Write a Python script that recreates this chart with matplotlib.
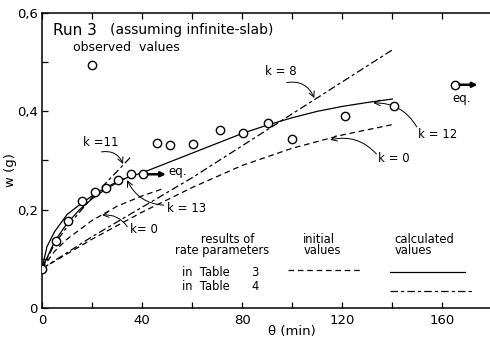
import numpy as np
import matplotlib
matplotlib.use('Agg')
import matplotlib.pyplot as plt

plt.rcParams['font.family'] = 'DejaVu Sans'

# observed values (short run, up to eq.)
obs1_t = [0, 5.6, 10.5, 16, 21, 25.6, 30.5, 35.6, 40.5]
obs1_w = [0.08, 0.136, 0.177, 0.218, 0.235, 0.245, 0.26, 0.272, 0.272]
# observed values (long run)
obs2_t = [46, 51, 60.5, 71, 80.5, 90.5, 100, 121, 140.5]
obs2_w = [0.336, 0.332, 0.334, 0.362, 0.355, 0.377, 0.343, 0.391, 0.41]
eq1 = (40.5, 0.272)
eq2 = (165, 0.454)

# calculated curves, Table 3 (solid)
k12_t = [0, 2, 5, 10, 15, 20, 25, 30, 35, 40, 50, 60, 70, 80, 90, 100, 110, 120, 130, 140]
k12_w = [0.08, 0.125, 0.155, 0.19, 0.21, 0.228, 0.243, 0.257, 0.267, 0.275, 0.295,
         0.315, 0.335, 0.355, 0.372, 0.387, 0.4, 0.41, 0.418, 0.425]
k13_t = [0, 5, 10, 15, 20, 25, 30, 33]
k13_w = [0.08, 0.135, 0.172, 0.2, 0.222, 0.24, 0.255, 0.263]
# initial values, Table 3 (dashed)
k0s_t = [0, 5, 10, 20, 30, 40, 48]
k0s_w = [0.08, 0.115, 0.14, 0.178, 0.207, 0.228, 0.242]
k0l_t = [0, 20, 40, 60, 80, 100, 120, 140]
k0l_w = [0.08, 0.14, 0.195, 0.245, 0.29, 0.325, 0.352, 0.373]
# calculated curves, Table 4 (dash-dot)
k11_t = [0, 5, 10, 20, 30, 36]
k11_w = [0.08, 0.13, 0.165, 0.225, 0.278, 0.31]
k8_t = [0, 20, 40, 60, 80, 100, 120, 140]
k8_w = [0.08, 0.145, 0.205, 0.265, 0.33, 0.395, 0.46, 0.525]

dash3 = (0, (4.5, 3))
dash4 = (0, (6, 2.5, 2.5, 2.5))
lw = 0.9

fig = plt.figure(figsize=(4.9, 3.39), dpi=100)
ax = fig.add_axes([0.0857, 0.0914, 0.9143, 0.8703])

ax.plot(k12_t, k12_w, color='black', lw=lw)
ax.plot(k13_t, k13_w, color='black', lw=lw)
ax.plot(k0s_t, k0s_w, color='black', lw=lw, ls=dash3)
ax.plot(k0l_t, k0l_w, color='black', lw=lw, ls=dash3)
ax.plot(k11_t, k11_w, color='black', lw=lw, ls=dash4)
ax.plot(k8_t, k8_w, color='black', lw=lw, ls=dash4)

mk = dict(ls='none', marker='o', ms=6, mfc='white', mec='black', mew=1, zorder=5)
ax.plot(obs1_t, obs1_w, **mk)
ax.plot(obs2_t, obs2_w, **mk)
ax.plot([eq2[0]], [eq2[1]], **mk)
ax.plot([19.9], [0.494], **mk)  # legend symbol for observed values

# eq. arrows
thick = dict(arrowstyle='-|>', lw=1.8, color='black', mutation_scale=7, shrinkA=0, shrinkB=0)
ax.annotate('', xy=(eq1[0] + 9, eq1[1]), xytext=(eq1[0] + 1.8, eq1[1]), arrowprops=thick, zorder=6)
ax.annotate('', xy=(eq2[0] + 9, eq2[1]), xytext=(eq2[0] + 1.8, eq2[1]), arrowprops=thick, zorder=6)
ax.text(50.4, 0.277, 'eq.', fontsize=8.5, va='center')
ax.text(167.6, 0.427, 'eq.', fontsize=8.5, va='center', ha='center')

# texts
ax.text(4.4, 0.565, 'Run 3', fontsize=11, va='center')
ax.text(27.2, 0.565, '(assuming infinite-slab)', fontsize=10, va='center')
ax.text(12.4, 0.529, 'observed  values', fontsize=9, va='center')

# k labels with wavy arrows
arr = dict(arrowstyle='->', lw=0.7, color='black', shrinkA=1, shrinkB=0)
labels = [
    ('k = 8', (89.2, 0.48), (97.2, 0.458), (108.8, 0.427), -0.4),
    ('k = 12', (150.4, 0.352), (150, 0.366), (132.4, 0.417), 0.3),
    ('k = 0', (134.4, 0.305), (134, 0.311), (115.2, 0.342), 0.3),
    ('k =11', (16.4, 0.336), (23.2, 0.317), (32.4, 0.293), -0.4),
    ('k = 13', (50, 0.203), (49.2, 0.209), (34, 0.26), -0.3),
    ('k= 0', (35, 0.159), (34.4, 0.163), (24, 0.189), 0.3),
]
for txt, pos, tail, head, rad in labels:
    ax.text(pos[0], pos[1], txt, fontsize=8.5, va='center')
    ax.annotate('', xy=head, xytext=tail,
                arrowprops=dict(arr, connectionstyle='arc3,rad=%s' % rad))

# legend block
fs = 8.3
ax.text(72, 0.128, '   results of\nrate parameters', fontsize=fs, ha='center', va='center',
        multialignment='center', linespacing=0.85)
ax.text(56, 0.073, 'in  Table', fontsize=fs, va='center')
ax.text(56, 0.043, 'in  Table', fontsize=fs, va='center')
ax.text(85.2, 0.073, '3', fontsize=fs, ha='center', va='center')
ax.text(85.2, 0.043, '4', fontsize=fs, ha='center', va='center')
ax.text(104.4, 0.128, 'initial\nvalues', fontsize=fs, va='center', linespacing=0.85)
ax.text(140.8, 0.128, 'calculated\nvalues', fontsize=fs, va='center', linespacing=0.85)
ax.plot([98.4, 127.2], [0.077, 0.077], color='black', lw=lw, ls=dash3)
ax.plot([139, 169], [0.073, 0.073], color='black', lw=lw)
ax.plot([139, 172], [0.035, 0.035], color='black', lw=lw, ls=dash4)

ax.set_xlim(0, 179)
ax.set_ylim(0, 0.6)
ax.spines['right'].set_visible(False)
for s in ['left', 'bottom', 'top']:
    ax.spines[s].set_linewidth(1.1)

ax.set_xticks([0, 40, 80, 120, 160])
ax.set_xticklabels(['0', '40', '80', '120', '160'])
ax.set_xticks(np.arange(0, 180, 20), minor=True)
ax.set_yticks([0, 0.2, 0.4, 0.6])
ax.set_yticklabels(['0', '0,2', '0,4', '0,6'])
ax.set_yticks(np.arange(0, 0.61, 0.1), minor=True)
ax.tick_params(which='both', direction='in', top=True, right=False, labelsize=9.5, width=0.9)
ax.tick_params(which='major', length=4)
ax.tick_params(which='minor', length=4)
ax.tick_params(axis='x', pad=4)
ax.tick_params(axis='y', pad=3)

ax.set_xlabel('θ (min)', fontsize=9.5)
ax.xaxis.set_label_coords(0.558, -0.056)
ax.set_ylabel('w (g)', fontsize=9.5)
ax.yaxis.set_label_coords(-0.055, 0.468)

fig.savefig('out.png', dpi=100)
